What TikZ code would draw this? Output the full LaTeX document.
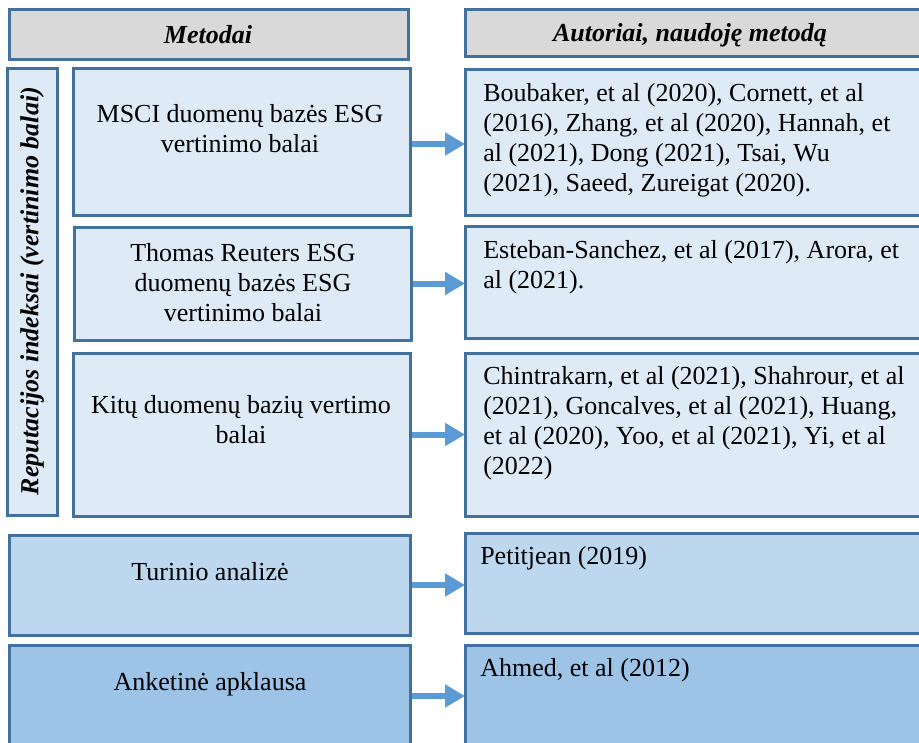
\documentclass[tikz,border=0pt]{standalone}
\usepackage{fontspec}
\setmainfont{Liberation Serif}
\usetikzlibrary{arrows.meta,calc}
\definecolor{bordc}{HTML}{41719C}
\definecolor{grayc}{HTML}{D9D9D9}
\definecolor{lightc}{HTML}{DEEBF7}
\definecolor{midc}{HTML}{BDD7EE}
\definecolor{darkc}{HTML}{9DC3E6}
\definecolor{arrc}{HTML}{5B9BD5}
\tikzset{
  box/.style={draw=bordc, line width=2.25pt, rectangle, inner sep=0pt, outer sep=0pt, anchor=north west},
  txt/.style={inner sep=0pt, font=\fontsize{19.5}{22.5}\selectfont, text=black},
  ctxt/.style={txt, align=center},
  ltxt/.style={txt, align=left, anchor=west},
  htxt/.style={txt, font=\fontsize{19.5}{22.5}\selectfont\bfseries\itshape},
  arr/.style={draw=arrc, line width=4.5pt, -{Triangle[length=15pt,width=16.5pt]}, shorten <=1.5pt}
}
\begin{document}
\begin{tikzpicture}[x=0.75pt,y=-0.75pt]
\useasboundingbox (0,0) rectangle (919,742);
\clip (0,0) rectangle (919,742);
\fill[white] (0,0) rectangle (919,742);
% headers
\node[box, fill=grayc, minimum width=399*0.75pt, minimum height=50*0.75pt] (h1) at (9,10) {};
\node[box, fill=grayc, minimum width=470*0.75pt, minimum height=47*0.75pt] (h2) at (465,10) {};
\node[htxt] (h1t) at (208,35) {Metodai};
\node[htxt] (h2t) at (690,35) {Autoriai, naudoję metodą};
% vertical group box
\node[box, fill=lightc, minimum width=50*0.75pt, minimum height=447*0.75pt] (grp) at (7,68) {};
\node[htxt, rotate=90] (grpt) at (32,291) {Reputacijos indeksai (vertinimo balai)};
% left boxes
\node[box, fill=lightc, minimum width=337*0.75pt, minimum height=147*0.75pt] (msci) at (73,68) {};
\node[box, fill=lightc, minimum width=337*0.75pt, minimum height=113*0.75pt] (tr) at (74,227) {};
\node[box, fill=lightc, minimum width=337*0.75pt, minimum height=163*0.75pt] (kit) at (73,353) {};
\node[box, fill=midc, minimum width=401*0.75pt, minimum height=100*0.75pt] (tur) at (9,535) {};
\node[box, fill=darkc, minimum width=401*0.75pt, minimum height=102*0.75pt] (ank) at (9,645) {};
\node[ctxt] (mscit) at (240,129) {MSCI duomenų bazės ESG\\vertinimo balai};
\node[ctxt] (trt) at (243,283) {Thomas Reuters ESG\\duomenų bazės ESG\\vertinimo balai};
\node[ctxt] (kitt) at (241,420) {Kitų duomenų bazių vertimo\\balai};
\node[ctxt] (turt) at (210,572) {Turinio analizė};
\node[ctxt] (ankt) at (210,684) {Anketinė apklausa};
% right boxes
\node[box, fill=lightc, minimum width=470*0.75pt, minimum height=146*0.75pt] (r1) at (465,69) {};
\node[box, fill=lightc, minimum width=470*0.75pt, minimum height=112*0.75pt] (r2) at (465,226) {};
\node[box, fill=lightc, minimum width=470*0.75pt, minimum height=163*0.75pt] (r3) at (465,353) {};
\node[box, fill=midc, minimum width=470*0.75pt, minimum height=100*0.75pt] (r4) at (465,533) {};
\node[box, fill=darkc, minimum width=470*0.75pt, minimum height=102*0.75pt] (r5) at (465,645) {};
\node[ltxt] (r1t) at (483,140) {Boubaker, et al (2020), Cornett, et al\\(2016), Zhang, et al (2020), Hannah, et\\al (2021), Dong (2021), Tsai, Wu\\(2021), Saeed, Zureigat (2020).};
\node[ltxt] (r2t) at (483,267) {Esteban-Sanchez, et al (2017), Arora, et\\al (2021).};
\node[ltxt] (r3t) at (483,423) {Chintrakarn, et al (2021), Shahrour, et al\\(2021), Goncalves, et al (2021), Huang,\\et al (2020), Yoo, et al (2021), Yi, et al\\(2022)};
\node[ltxt] (r4t) at (480,558) {Petitjean (2019)};
\node[ltxt] (r5t) at (480,670) {Ahmed, et al (2012)};
% arrows
\coordinate (a1) at ($(msci.east)+(0,2.5)$);
\draw[arr] (a1) -- (a1 -| r1.west);
\draw[arr] (tr.east) -- (tr.east -| r2.west);
\draw[arr] (kit.east) -- (kit.east -| r3.west);
\draw[arr] (tur.east) -- (tur.east -| r4.west);
\draw[arr] (ank.east) -- (ank.east -| r5.west);
\end{tikzpicture}
\end{document}
